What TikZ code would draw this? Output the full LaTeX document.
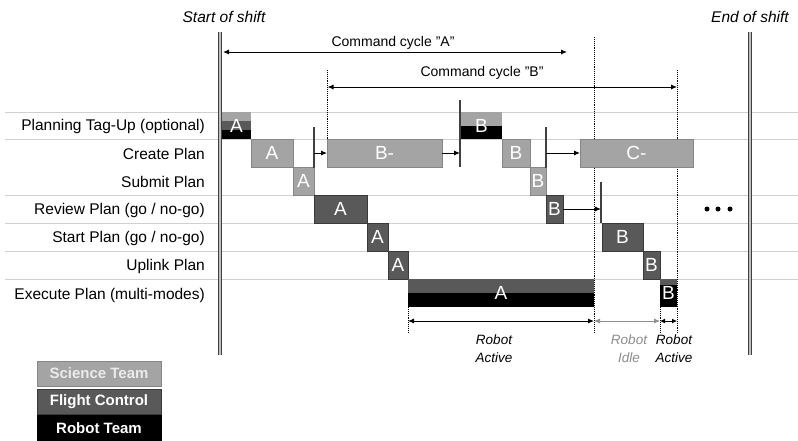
\documentclass[tikz,border=0pt]{standalone}
\usepackage{fontspec}
\setmainfont{Liberation Sans}
\usetikzlibrary{arrows.meta}
\definecolor{scifill}{HTML}{A4A4A4}
\definecolor{sciedge}{HTML}{868686}
\definecolor{fcfill}{HTML}{595959}
\definecolor{fcedge}{HTML}{3A3A3A}
\definecolor{rowline}{HTML}{D0D0D0}
\definecolor{idlecol}{HTML}{8C8C8C}
\definecolor{shiftcol}{HTML}{404040}
\begin{document}
\begin{tikzpicture}[x=1pt,y=-1pt,
  box/.style={anchor=north west, inner sep=0pt, outer sep=0pt, text=white,
    font=\fontsize{19}{19}\selectfont, line width=0.8pt},
  sci/.style={box, fill=scifill, draw=sciedge},
  fc/.style={box, fill=fcfill, draw=fcedge},
  lbl/.style={box, draw=none, fill=none},
  rowlabel/.style={anchor=east, inner sep=0pt, font=\fontsize{15.5}{18}\selectfont},
  legend/.style={box, minimum width=124pt, minimum height=25pt,
    font=\bfseries\fontsize{15}{15}\selectfont},
  tick/.style={draw=shiftcol, line width=1.4pt},
  arr/.style={-{Latex[length=6pt,width=5pt]}, line width=0.9pt},
  dim/.style={{Latex[length=6pt,width=5pt]}-{Latex[length=6pt,width=5pt]}, line width=0.9pt},
  dotline/.style={densely dotted, line width=0.9pt},
  shiftbar/.style={draw=shiftcol, double=gray!50, line width=1.4pt, double distance=1.8pt},
  rowline/.style={draw=rowline, line width=0.8pt},
  cmdlabel/.style={inner sep=0pt, font=\fontsize{14}{16}\selectfont},
  shiftlabel/.style={inner sep=0pt, font=\itshape\fontsize{15.5}{18}\selectfont},
  robotlabel/.style={inner sep=0pt, align=center, font=\itshape\fontsize{13.5}{18}\selectfont}
]
\useasboundingbox (0,0) rectangle (798,440);

% row lines
\foreach \yy in {112,139,195,223,251,279}
  \draw[rowline] (5,\yy) -- (798,\yy);

% row labels
\node[rowlabel] (l1) at (205,126) {Planning Tag-Up (optional)};
\node[rowlabel] (l2) at (205,154) {Create Plan};
\node[rowlabel] (l3) at (205,182) {Submit Plan};
\node[rowlabel] (l4) at (205,210) {Review Plan (go / no-go)};
\node[rowlabel] (l5) at (205,238) {Start Plan (go / no-go)};
\node[rowlabel] (l6) at (205,266) {Uplink Plan};
\node[rowlabel] (l7) at (205,295) {Execute Plan (multi-modes)};

% shift labels and bars
\node[shiftlabel] (sos) at (224,17) {Start of shift};
\node[shiftlabel] (eos) at (750,17) {End of shift};
\coordinate (s1) at (220,32); \coordinate (s2) at (220,355);
\coordinate (e1) at (750,32); \coordinate (e2) at (750,355);
\draw[shiftbar] (s1) -- (s2);
\draw[shiftbar] (e1) -- (e2);

% dotted markers
\coordinate (d1a) at (327,70);  \coordinate (d1b) at (327,139);
\coordinate (d2a) at (594,37);  \coordinate (d2b) at (594,333);
\coordinate (d3a) at (677,70);  \coordinate (d3b) at (677,333);
\coordinate (d4a) at (408,307); \coordinate (d4b) at (408,333);
\coordinate (d5a) at (660,307); \coordinate (d5b) at (660,333);
\foreach \a/\b in {d1a/d1b,d2a/d2b,d3a/d3b,d4a/d4b,d5a/d5b}
  \draw[dotline] (\a) -- (\b);

% command cycles
\coordinate (cAl) at (223,52); \coordinate (cAr) at (567,52);
\draw[dim] (cAl) -- (cAr);
\node[cmdlabel] (cAlbl) at (393,43) {Command cycle "A"};
\coordinate (cBl) at (327.5,87); \coordinate (cBr) at (677,87);
\draw[dim] (cBl) -- (cBr);
\node[cmdlabel] (cBlbl) at (482,73) {Command cycle "B"};

% Planning tag-up A (three stripes)
\fill[scifill] (222,112) rectangle (251,121);
\fill[fcfill] (222,121) rectangle (251,130);
\fill[black] (222,130) rectangle (251,139);
\node[lbl, minimum width=29pt, minimum height=27pt] (tA) at (222,112) {A};
% Planning tag-up B (two stripes)
\fill[scifill] (461,112) rectangle (502,126);
\fill[black] (461,126) rectangle (502,139);
\node[lbl, minimum width=41pt, minimum height=27pt] (tB) at (461,112) {B};

% command cycle A boxes
\node[sci, minimum width=42pt, minimum height=28pt] (cA) at (251,139) {A};
\node[sci, minimum width=21pt, minimum height=28pt] (sA) at (293,167) {A};
\node[fc, minimum width=53pt, minimum height=28pt] (rA) at (314,195) {A};
\node[fc, minimum width=21pt, minimum height=28pt] (stA) at (367,223) {A};
\node[fc, minimum width=20pt, minimum height=28pt] (uA) at (388,251) {A};
\fill[fcfill] (408,279) rectangle (594,293);
\fill[black] (408,293) rectangle (594,307);
\node[lbl, minimum width=186pt, minimum height=28pt] (xA) at (408,279) {A};

% create B- and C-
\node[sci, minimum width=115pt, minimum height=28pt] (cBm) at (327,139) {B-};
\node[sci, minimum width=113pt, minimum height=28pt] (cCm) at (580,139) {C-};

% command cycle B boxes
\node[sci, minimum width=28pt, minimum height=28pt] (cB) at (502,139) {B};
\node[sci, minimum width=16pt, minimum height=28pt] (sB) at (530,167) {B};
\node[fc, minimum width=17pt, minimum height=28pt] (rB) at (546,195) {B};
\node[fc, minimum width=41pt, minimum height=28pt] (stB) at (602,223) {B};
\node[fc, minimum width=17pt, minimum height=28pt] (uB) at (643,251) {B};
\fill[fcfill] (660,279) rectangle (677,285);
\fill[black] (660,285) rectangle (677,307);
\node[lbl, minimum width=17pt, minimum height=28pt] (xB) at (660,279) {B};

% ticks and arrows
\coordinate (t1a) at (314,127); \coordinate (t1b) at (314,168);
\coordinate (t2a) at (460,100); \coordinate (t2b) at (460,167);
\coordinate (t3a) at (546,127); \coordinate (t3b) at (546,168);
\coordinate (t4a) at (601,182); \coordinate (t4b) at (601,223);
\foreach \a/\b in {t1a/t1b,t2a/t2b,t3a/t3b,t4a/t4b}
  \draw[tick] (\a) -- (\b);
\draw[arr] (t1a |- cBm.west) -- (cBm.west);
\draw[arr] (cBm.east) -- (t2a |- cBm.east);
\draw[arr] (t3a |- cCm.west) -- (cCm.west);
\draw[arr] (rB.east) -- (t4a |- rB.east);

% robot activity dimension arrows
\coordinate (ra1) at (408,321); \coordinate (ra2) at (594,321);
\coordinate (ra3) at (660,321); \coordinate (ra4) at (677,321);
\draw[dim] (ra1) -- (ra2);
\draw[dim, draw=idlecol, line width=0.7pt] (ra2) -- (ra3);
\draw[dim, {Latex[length=5pt,width=5pt]}-{Latex[length=5pt,width=5pt]}] (ra3) -- (ra4);
\node[robotlabel] (rl1) at (494,349) {Robot\\Active};
\node[robotlabel, text=idlecol] (rl2) at (629,349) {Robot\\Idle};
\node[robotlabel] (rl3) at (674,349) {Robot\\Active};

% ellipsis
\foreach \xx in {707,718,730}
  \fill (\xx,209) circle (2.5);

% legend
\node[legend, fill=scifill, draw=sciedge, text=white!92!black] (lg1) at (37,361) {Science Team};
\node[legend, fill=fcfill, draw=fcedge] (lg2) at (37,389) {Flight Control};
\node[legend, fill=black, draw=black] (lg3) at (37,415.5) {Robot Team};
\end{tikzpicture}
\end{document}
